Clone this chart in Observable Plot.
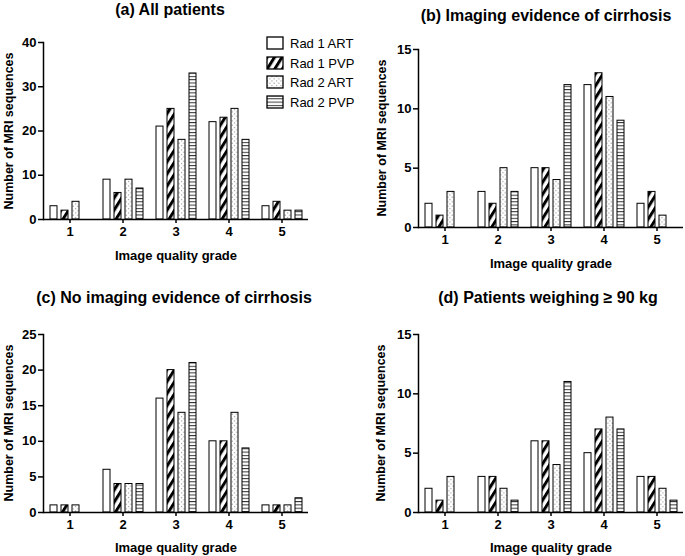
<!DOCTYPE html>
<html><head><meta charset="utf-8">
<script src="https://cdn.jsdelivr.net/npm/d3@7"></script>
<script src="https://cdn.jsdelivr.net/npm/@observablehq/plot@0.6"></script>
<style>
body{margin:0;background:#fff;}
#root{position:relative;width:685px;height:556px;overflow:hidden;font-family:"Liberation Sans",Arial,sans-serif;color:#000;background:#fff;}
.abs{position:absolute;white-space:nowrap;line-height:1;}
.title{font-weight:bold;font-size:16px;transform:translate(-50%,-50%);}
.xlab{font-weight:bold;font-size:13px;transform:translate(-50%,-50%);}
.ylab{font-weight:bold;font-size:12.5px;transform:translate(-50%,-50%) rotate(-90deg);}
.leg{font-size:13px;display:flex;align-items:center;transform:translateY(-50%);}
.leg svg{margin-right:6px;}
.plot{position:absolute;}
</style></head>
<body>
<svg width="0" height="0" style="position:absolute">
<defs>
<pattern id="p-diag" patternUnits="userSpaceOnUse" width="6.4" height="6.4" patternTransform="rotate(-58)">
<rect width="6.4" height="6.4" fill="white"/>
<rect y="0" width="6.4" height="3" fill="black"/>
</pattern>
<pattern id="p-dots" patternUnits="userSpaceOnUse" width="4.5" height="4.5">
<rect width="4.5" height="4.5" fill="white"/>
<rect x="1" y="1" width="1" height="1" fill="#777"/>
<rect x="3.25" y="3.25" width="1" height="1" fill="#777"/>
</pattern>
<pattern id="p-hlines" patternUnits="userSpaceOnUse" width="4" height="3.3">
<rect width="4" height="3.3" fill="white"/>
<rect y="0" width="4" height="1" fill="#333"/>
</pattern>
</defs></svg>
<div id="root"></div>
<script>
// ---- data ----
const grades = [1, 2, 3, 4, 5];
const seriesNames = ["Rad 1 ART", "Rad 1 PVP", "Rad 2 ART", "Rad 2 PVP"];
const fills = ["white", "url(#p-diag)", "url(#p-dots)", "url(#p-hlines)"];

// (a) All patients
const aRad1Art = [3, 9, 21, 22, 3];
const aRad1Pvp = [2, 6, 25, 23, 4];
const aRad2Art = [4, 9, 18, 25, 2];
const aRad2Pvp = [0, 7, 33, 18, 2];
const aTicks = [0, 10, 20, 30, 40];

// (b) Imaging evidence of cirrhosis
const bRad1Art = [2, 3, 5, 12, 2];
const bRad1Pvp = [1, 2, 5, 13, 3];
const bRad2Art = [3, 5, 4, 11, 1];
const bRad2Pvp = [0, 3, 12, 9, 0];
const bTicks = [0, 5, 10, 15];

// (c) No imaging evidence of cirrhosis
const cRad1Art = [1, 6, 16, 10, 1];
const cRad1Pvp = [1, 4, 20, 10, 1];
const cRad2Art = [1, 4, 14, 14, 1];
const cRad2Pvp = [0, 4, 21, 9, 2];
const cTicks = [0, 5, 10, 15, 20, 25];

// (d) Patients weighing >= 90 kg
const dRad1Art = [2, 3, 6, 5, 3];
const dRad1Pvp = [1, 3, 6, 7, 3];
const dRad2Art = [3, 2, 4, 8, 2];
const dRad2Pvp = [0, 1, 11, 7, 1];
const dTicks = [0, 5, 10, 15];

const xLabel = "Image quality grade";
const yLabel = "Number of MRI sequences";

const root = document.getElementById("root");

function addDiv(cls, text, x, y) {
  const d = document.createElement("div");
  d.className = "abs " + cls;
  d.textContent = text;
  d.style.left = x + "px";
  d.style.top = y + "px";
  root.appendChild(d);
  return d;
}

function panel(cfg) {
  const data = seriesNames.flatMap((s, i) =>
    cfg.values[i].map((v, j) => ({grade: grades[j], series: s, value: v})));
  const p = Plot.plot({
    width: cfg.w, height: cfg.h,
    marginLeft: cfg.ml, marginRight: cfg.mr, marginTop: cfg.mt, marginBottom: cfg.mb,
    style: {fontFamily: "Liberation Sans, Arial, sans-serif", fontSize: "13px", fontWeight: "bold", color: "black", background: "transparent", overflow: "visible"},
    fx: {domain: grades, padding: 0, label: null},
    x: {domain: seriesNames, paddingInner: 0.4, paddingOuter: 0.48, axis: null},
    y: {domain: [0, cfg.ticks[cfg.ticks.length - 1]]},
    color: {domain: seriesNames, range: fills},
    marks: [
      Plot.barY(data, {fx: "grade", x: "series", y: "value", fill: "series", stroke: "black", strokeWidth: 1}),
      Plot.ruleY([0], {stroke: "black", strokeWidth: 1.5}),
      Plot.frame({anchor: "left", facetAnchor: "left", stroke: "black", strokeWidth: 1.5}),
      Plot.axisY({ticks: cfg.ticks, tickSize: 5, tickPadding: 2, label: null, strokeWidth: 1.5}),
      Plot.axisFx({anchor: "bottom", tickSize: 4, tickPadding: 3, label: null, strokeWidth: 1.5})
    ]
  });
  p.classList.add("plot");
  p.style.left = cfg.left + "px";
  p.style.top = cfg.top + "px";
  root.appendChild(p);
  addDiv("title", cfg.title, cfg.titleX, cfg.titleY);
  addDiv("xlab", xLabel, cfg.xlabX, cfg.xlabY);
  addDiv("ylab", yLabel, cfg.ylabX, cfg.ylabY);
}

panel({title: "(a) All patients", values: [aRad1Art, aRad1Pvp, aRad2Art, aRad2Pvp], ticks: aTicks,
  left: 0, top: 0, w: 345, h: 270, ml: 41, mr: 36, mt: 42, mb: 51,
  titleX: 170, titleY: 10, xlabX: 176, xlabY: 255, ylabX: 9, ylabY: 131});
panel({title: "(b) Imaging evidence of cirrhosis", values: [bRad1Art, bRad1Pvp, bRad2Art, bRad2Pvp], ticks: bTicks,
  left: 345, top: 0, w: 340, h: 270, ml: 73, mr: 2, mt: 49, mb: 43,
  titleX: 546, titleY: 16, xlabX: 551, xlabY: 263, ylabX: 382, ylabY: 138});
panel({title: "(c) No imaging evidence of cirrhosis", values: [cRad1Art, cRad1Pvp, cRad2Art, cRad2Pvp], ticks: cTicks,
  left: 0, top: 280, w: 345, h: 276, ml: 41, mr: 36, mt: 54, mb: 44,
  titleX: 174, titleY: 298, xlabX: 176, xlabY: 547, ylabX: 9, ylabY: 423});
panel({title: "(d) Patients weighing \u2265 90 kg", values: [dRad1Art, dRad1Pvp, dRad2Art, dRad2Pvp], ticks: dTicks,
  left: 345, top: 280, w: 340, h: 276, ml: 72, mr: 2, mt: 54, mb: 44,
  titleX: 548, titleY: 298, xlabX: 551, xlabY: 547, ylabX: 381, ylabY: 423});

// legend
const legendY = [43, 63, 82, 102];
seriesNames.forEach((s, i) => {
  const row = document.createElement("div");
  row.className = "abs leg";
  row.style.left = "266px";
  row.style.top = legendY[i] + "px";
  row.innerHTML = `<svg width="18" height="14"><rect x="1" y="1" width="16" height="12" fill="${fills[i]}" stroke="black" stroke-width="1.3"/></svg><span>${s}</span>`;
  root.appendChild(row);
});
</script>
</body></html>
